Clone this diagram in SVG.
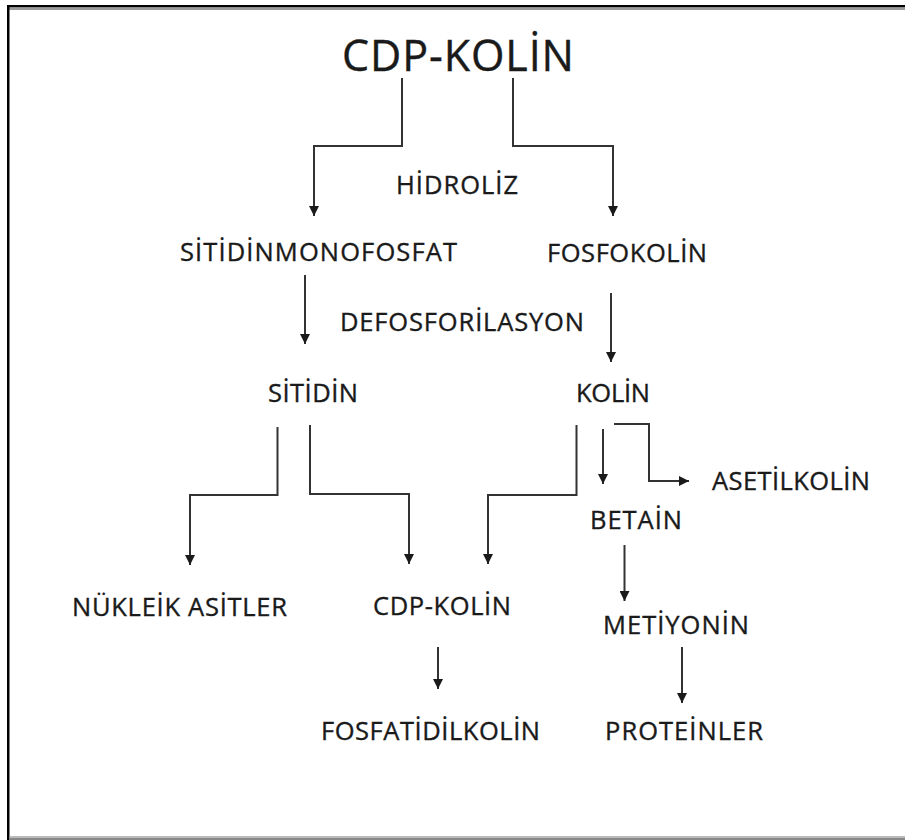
<svg xmlns="http://www.w3.org/2000/svg" width="905" height="840" viewBox="0 0 905 840">
<style>
.t{font-family:"Open Sans","Noto Sans","Liberation Sans",sans-serif;font-size:25.5px;fill:#1a1a1a;stroke:#1a1a1a;stroke-width:0.35px}
.title{font-size:43px;stroke-width:0.4px}
.c{fill:none;stroke:#333;stroke-width:2}
</style>
<defs>
<marker id="ah" viewBox="0 0 10 10" markerUnits="userSpaceOnUse" markerWidth="11" markerHeight="10" refX="10" refY="5" orient="auto">
<path d="M0,0 L10,5 L0,10 z" fill="#1a1a1a"/>
</marker>
</defs>
<rect width="905" height="840" fill="#fff"/>
<g id="frame">
<rect x="7" y="5" width="898" height="2.5" fill="#000"/>
<rect x="9" y="7.5" width="896" height="2.5" fill="#999"/>
<rect x="7" y="5" width="2.5" height="835" fill="#000"/>
<rect x="9.5" y="836" width="895.5" height="1.7" fill="#bbb"/>
<rect x="9.5" y="837.7" width="895.5" height="2.3" fill="#888"/>
</g>
<g id="connectors">
<path class="c" d="M402,78 V146 H314 V216" marker-end="url(#ah)"/>
<path class="c" d="M513,78 V146 H613 V216" marker-end="url(#ah)"/>
<path class="c" d="M305,275 V344" marker-end="url(#ah)"/>
<path class="c" d="M611,293 V362" marker-end="url(#ah)"/>
<path class="c" d="M277.5,427 V495 H190 V565" marker-end="url(#ah)"/>
<path class="c" d="M310,425 V494 H409 V564" marker-end="url(#ah)"/>
<path class="c" d="M576.5,425 V495 H488 V564" marker-end="url(#ah)"/>
<path class="c" d="M603,429 V484" marker-end="url(#ah)"/>
<path class="c" d="M614,424 H649 V481 H689" marker-end="url(#ah)"/>
<path class="c" d="M624.5,545 V601" marker-end="url(#ah)"/>
<path class="c" d="M438,647 V689" marker-end="url(#ah)"/>
<path class="c" d="M682,647 V703" marker-end="url(#ah)"/>
</g>
<g id="cdp-kolin-top"><text class="t title" x="342" y="71" textLength="232" lengthAdjust="spacing">CDP-KOLİN</text></g>
<g id="hidroliz"><text class="t" x="396" y="194" textLength="122" lengthAdjust="spacing">HİDROLİZ</text></g>
<g id="sitidinmonofosfat"><text class="t" x="180" y="261" textLength="277" lengthAdjust="spacing">SİTİDİNMONOFOSFAT</text></g>
<g id="fosfokolin"><text class="t" x="547" y="262" textLength="160" lengthAdjust="spacing">FOSFOKOLİN</text></g>
<g id="defosforilasyon"><text class="t" x="340" y="331" textLength="244" lengthAdjust="spacing">DEFOSFORİLASYON</text></g>
<g id="sitidin"><text class="t" x="268" y="402" textLength="90" lengthAdjust="spacing">SİTİDİN</text></g>
<g id="kolin"><text class="t" x="576" y="402" textLength="74" lengthAdjust="spacing">KOLİN</text></g>
<g id="asetilkolin"><text class="t" x="712" y="490" textLength="158" lengthAdjust="spacing">ASETİLKOLİN</text></g>
<g id="betain"><text class="t" x="590" y="529" textLength="92" lengthAdjust="spacing">BETAİN</text></g>
<g id="nukleik-asitler"><text class="t" x="72" y="616" textLength="215" lengthAdjust="spacing">NÜKLEİK ASİTLER</text></g>
<g id="cdp-kolin"><text class="t" x="373" y="615" textLength="138" lengthAdjust="spacing">CDP-KOLİN</text></g>
<g id="metiyonin"><text class="t" x="603" y="634" textLength="146" lengthAdjust="spacing">METİYONİN</text></g>
<g id="fosfatidilkolin"><text class="t" x="321" y="740" textLength="219" lengthAdjust="spacing">FOSFATİDİLKOLİN</text></g>
<g id="proteinler"><text class="t" x="605" y="740" textLength="158" lengthAdjust="spacing">PROTEİNLER</text></g>
</svg>
